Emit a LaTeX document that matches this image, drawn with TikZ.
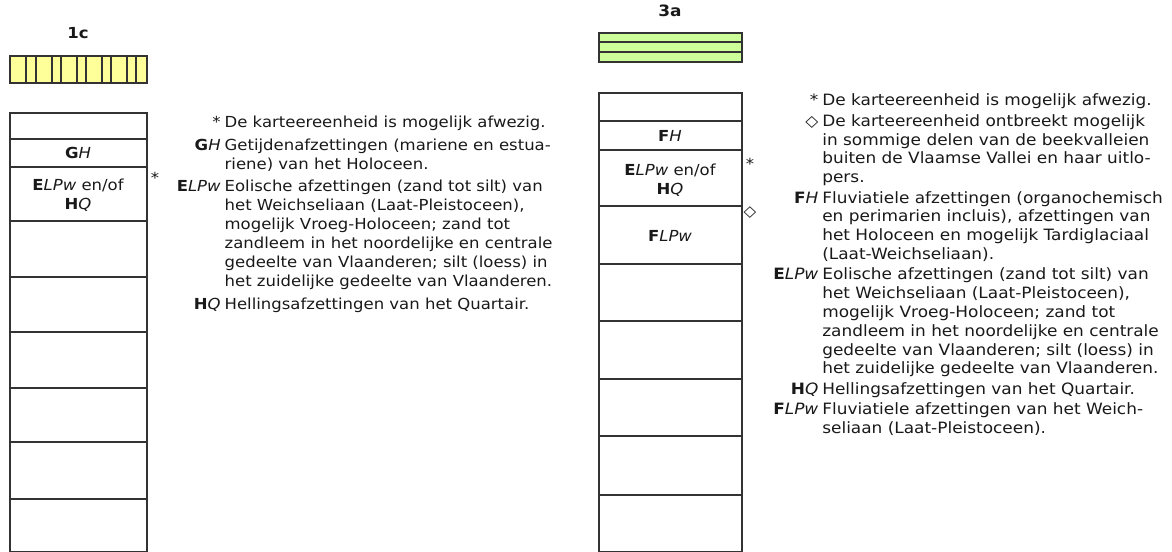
\documentclass[tikz,border=0pt]{standalone}
\usepackage{fontspec}
\setmainfont{DejaVu Sans}[FakeStretch=1.085]
\usetikzlibrary{positioning}
\definecolor{swatchyellow}{RGB}{255,255,153}
\definecolor{swatchgreen}{RGB}{204,255,153}
\definecolor{ruleline}{RGB}{51,51,51}
\definecolor{inktext}{RGB}{25,25,25}
\newcommand{\legendfont}{\fontsize{11.4}{14.25}\selectfont}
\newcommand{\legendfontB}{\fontsize{11.7}{14.1}\selectfont}
\newcommand{\unitcode}[2]{\textbf{#1}\textit{#2}}
\newcommand{\pgap}{\\[2.6pt]}
\newcommand{\pgapB}{\\[1.2pt]}
\tikzset{
  frame/.style={draw=ruleline, line width=0.9pt},
  title/.style={font=\legendfont\bfseries, text=inktext, inner sep=0pt},
  unitlabel/.style={font=\legendfont, text=inktext, align=center, inner sep=0pt},
  flagsym/.style={font=\legendfont, text=inktext, inner sep=0pt},
  legend/.style={font=\legendfont, text=inktext, inner sep=0pt, anchor=base west}
}

\begin{document}
\begin{tikzpicture}[x=0.75pt, y=-0.75pt]
  \useasboundingbox (0,0) rectangle (1172,552);

  % column 1c
  \node[title] (t1c) at (78,33) {1c};
  \draw[frame, fill=swatchyellow] (10,56) rectangle (147,83);
  \foreach \x in {26,36,52,61,77,86,102,111,127,136}
    \draw[frame] (\x,56) -- (\x,83);
  \draw[frame] (10,113) rectangle (147,551.5);
  \foreach \y in {139,167,221,277,332,388,442,499}
    \draw[frame] (10,\y) -- (147,\y);
  \node[unitlabel] (gh) at (78,153) {\unitcode{G}{H}};
  \node[unitlabel] (elpwA) at (78,195.5) {\unitcode{E}{LPw} en/of\\\unitcode{H}{Q}};
  \node[flagsym] (starA) at (155,178) {*};

  % legend 1c
  \node[legend] (legA) at (176.5,128) {\begin{tabular}[t]{@{}r@{\hspace{3pt}}l@{}}
    * & De karteereenheid is mogelijk afwezig.\pgap
    \unitcode{G}{H} & Getijdenafzettingen (mariene en estua-\\
     & riene) van het Holoceen.\pgap
    \unitcode{E}{LPw} & Eolische afzettingen (zand tot silt) van\\
     & het Weichseliaan (Laat-Pleistoceen),\\
     & mogelijk Vroeg-Holoceen; zand tot\\
     & zandleem in het noordelijke en centrale\\
     & gedeelte van Vlaanderen; silt (loess) in\\
     & het zuidelijke gedeelte van Vlaanderen.\pgap
    \unitcode{H}{Q} & Hellingsafzettingen van het Quartair.
  \end{tabular}};

  % column 3a
  \node[title, font=\legendfontB\bfseries] (t3a) at (670,11) {3a};
  \draw[frame, fill=swatchgreen] (599,33) rectangle (742,62);
  \foreach \y in {42,52}
    \draw[frame] (599,\y) -- (742,\y);
  \draw[frame] (599,93) rectangle (742,551.5);
  \foreach \y in {121,150,206,264,321,379,436,495}
    \draw[frame] (599,\y) -- (742,\y);
  \begin{scope}[every node/.append style={font=\legendfontB}]
    \node[unitlabel] (fh) at (670,136) {\unitcode{F}{H}};
    \node[unitlabel] (elpwB) at (670,180.5) {\unitcode{E}{LPw} en/of\\\unitcode{H}{Q}};
    \node[unitlabel] (flpw) at (670,236) {\unitcode{F}{LPw}};
    \node[flagsym] (starB) at (750,164) {*};
    \node[flagsym] (diamB) at (750,213) {◇};
  \end{scope}

  % legend 3a
  \node[legend, font=\legendfontB] (legB) at (773,106) {\begin{tabular}[t]{@{}r@{\hspace{3pt}}l@{}}
    * & De karteereenheid is mogelijk afwezig.\pgapB
    ◇ & De karteereenheid ontbreekt mogelijk\\
     & in sommige delen van de beekvalleien\\
     & buiten de Vlaamse Vallei en haar uitlo-\\
     & pers.\pgapB
    \unitcode{F}{H} & Fluviatiele afzettingen (organochemisch\\
     & en perimarien incluis), afzettingen van\\
     & het Holoceen en mogelijk Tardiglaciaal\\
     & (Laat-Weichseliaan).\pgapB
    \unitcode{E}{LPw} & Eolische afzettingen (zand tot silt) van\\
     & het Weichseliaan (Laat-Pleistoceen),\\
     & mogelijk Vroeg-Holoceen; zand tot\\
     & zandleem in het noordelijke en centrale\\
     & gedeelte van Vlaanderen; silt (loess) in\\
     & het zuidelijke gedeelte van Vlaanderen.\pgapB
    \unitcode{H}{Q} & Hellingsafzettingen van het Quartair.\pgapB
    \unitcode{F}{LPw} & Fluviatiele afzettingen van het Weich-\\
     & seliaan (Laat-Pleistoceen).
  \end{tabular}};
\end{tikzpicture}
\end{document}
